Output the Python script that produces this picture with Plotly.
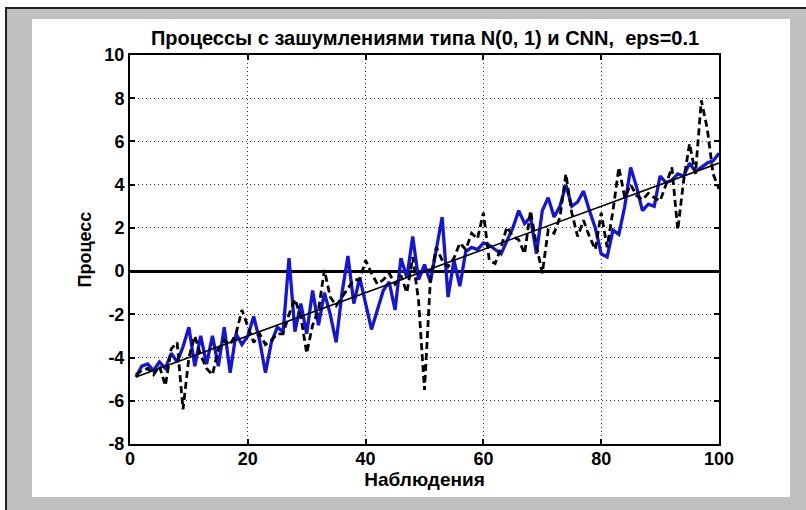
import plotly.graph_objects as go

obs = list(range(1, 101))

blue_vals = [
    -4.9, -4.4, -4.3, -4.6, -4.2, -4.5, -3.8, -4.2, -3.5, -2.6,
    -4.4, -3.0, -4.3, -3.0, -4.4, -2.6, -4.7, -2.9, -3.4, -3.0,
    -2.1, -3.2, -4.7, -3.3, -2.6, -2.8, 0.6, -2.8, -1.5, -2.9,
    -0.9, -2.5, -1.0, -2.0, -3.3, -1.0, 0.7, -1.5, -0.3, -1.5,
    -2.7, -1.8, -0.9, -0.5, -1.8, 0.6, -0.3, 1.6, -0.4, 0.3,
    -0.5, 1.0, 2.5, -1.2, 0.5, -0.7, 0.9, 1.1, 1.0, 1.3,
    1.2, 1.0, 0.8, 1.4, 2.0, 2.8, 2.2, 2.5, 0.8, 2.8,
    3.4, 2.5, 3.0, 4.0, 3.0, 3.2, 3.7, 2.8, 2.0, 0.8,
    0.65, 1.9, 1.7, 3.0, 4.8, 3.9, 2.8, 3.1, 3.0, 4.4,
    4.1, 4.2, 4.5, 4.4, 5.0, 4.6, 4.8, 5.0, 5.1, 5.45,
]

cnn_vals = [
    -4.8, -4.6, -4.5, -4.8, -4.4, -5.3, -3.6, -3.3, -6.4, -4.0,
    -3.0, -3.9, -4.5, -4.8, -3.6, -3.2, -3.4, -2.9, -1.8, -2.6,
    -3.3, -2.9, -3.4, -3.2, -2.9, -2.9, -2.0, -1.3, -2.1, -3.8,
    -2.5, -1.8, 0.05, -1.2, -1.6, -1.2, -0.8, -0.4, -0.4, 0.5,
    -0.1, -0.6, -0.4, -0.1, -0.6, -0.2, -1.0, 0.65, -1.4, -5.5,
    -0.4, 1.1, 0.5, 0.2, 0.6, 1.3, 1.0, 1.75, 1.5, 2.7,
    0.5, 0.35, 1.1, 2.05, 1.6, 1.45, 0.8, 2.8, 1.2, -0.1,
    1.9, 1.75, 2.5, 4.5, 2.7, 1.6, 2.35, 1.6, 1.0, 2.7,
    1.1, 2.8, 4.8, 3.4, 4.0, 3.5, 3.3, 3.6, 3.4, 3.25,
    4.0, 4.8, 1.9, 4.2, 5.9, 4.5, 7.9, 6.6, 4.5, 3.8,
]

trend_x = [1, 100]
trend_y = [-4.9, 5.0]

x_ticks = [0, 20, 40, 60, 80, 100]
y_ticks = [-8, -6, -4, -2, 0, 2, 4, 6, 8, 10]

title_text = "Процессы с зашумлениями типа N(0, 1) и CNN,  eps=0.1"
x_label = "Наблюдения"
y_label = "Процесс"

fig = go.Figure()
fig.add_trace(go.Scatter(x=obs, y=blue_vals, mode="lines",
                         line=dict(color="#1414dc", width=3.3), showlegend=False))
fig.add_trace(go.Scatter(x=obs, y=cnn_vals, mode="lines",
                         line=dict(color="black", width=2.8, dash="7px,4px"), showlegend=False))
fig.add_trace(go.Scatter(x=trend_x, y=trend_y, mode="lines",
                         line=dict(color="black", width=1.6), showlegend=False))

# plot area pixels: x 130..719, y 55..444
L, R, T, B = 130, 719, 55, 444
W, H = R - L, B - T


def px(X):
    return (X - L) / W


def py(Y):
    return (B - Y) / H


shapes = [
    dict(type="rect", xref="paper", yref="paper", layer="below",
         x0=px(6), x1=px(812), y0=py(516), y1=py(8),
         fillcolor="#c0c0c0", line=dict(color="#202020", width=2)),
    dict(type="rect", xref="paper", yref="paper", layer="below",
         x0=px(32), x1=px(790), y0=py(497), y1=py(19),
         fillcolor="white", line=dict(width=0)),
]

font_family = "Liberation Sans, Arial, sans-serif"

fig.update_layout(
    width=806, height=510,
    margin=dict(l=L, r=806 - R, t=T, b=510 - B),
    paper_bgcolor="white",
    plot_bgcolor="white",
    shapes=shapes,
    title=dict(text="<b>" + title_text + "</b>", xref="container", x=425 / 806,
               xanchor="center", y=1 - 38 / 510, yanchor="middle",
               font=dict(family=font_family, size=20, color="black")),
    font=dict(family=font_family, size=18, color="black"),
)

axis_common = dict(
    showline=True, linecolor="black", linewidth=2, mirror="ticks",
    ticks="inside", ticklen=5, tickwidth=1.5, tickcolor="black",
    showgrid=True, gridcolor="#303030", gridwidth=1, griddash="1px,3px",
    tickfont=dict(family=font_family, size=18, color="black"),
)

fig.update_xaxes(range=[0, 100], tickvals=x_ticks,
                 ticktext=["<b>%d</b>" % v for v in x_ticks],
                 zeroline=False, ticklabelstandoff=-3,
                 title=dict(text="<b>" + x_label + "</b>", standoff=2,
                            font=dict(family=font_family, size=19)),
                 **axis_common)
fig.update_yaxes(range=[-8, 10], tickvals=y_ticks,
                 ticktext=["<b>%d</b>" % v for v in y_ticks],
                 zeroline=True, zerolinecolor="black", zerolinewidth=2.5,
                 title=dict(text="<b>" + y_label + "</b>", standoff=8,
                            font=dict(family=font_family, size=18)),
                 **axis_common)

fig.write_html("out.html", config={"displayModeBar": False},
               post_script="document.body.style.margin='0';document.body.style.overflow='hidden';")
